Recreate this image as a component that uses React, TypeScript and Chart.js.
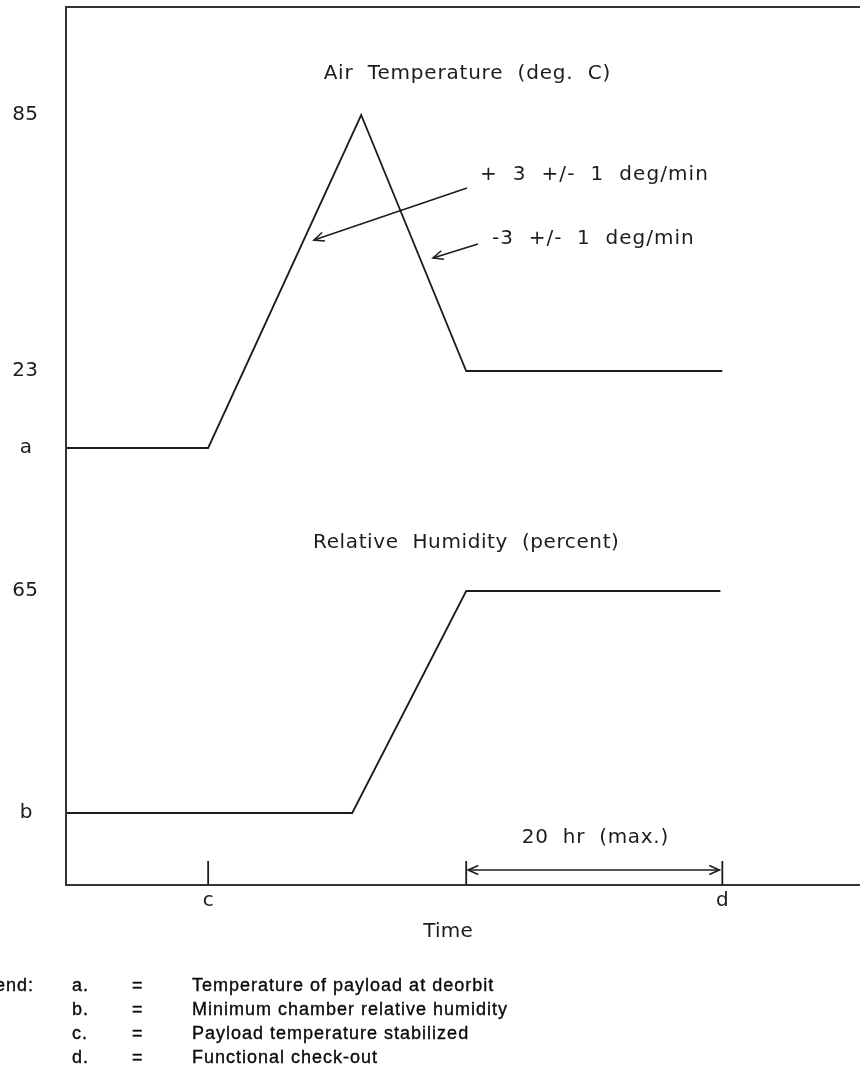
import React, { useEffect, useRef } from "react";
import { Chart, registerables } from "chart.js";

Chart.register(...registerables);

// Time in hours from the start of the test (horizontal positions)
const TEMP_TIME = [0, 11.1, 23.05, 31.25, 51.25];
// Air temperature, deg C (first two points = "a", payload temperature at deorbit)
const TEMP_VALUES = [4.35, 4.35, 85, 23, 23];

const HUM_TIME = [0, 22.35, 31.25, 51.1];
// Relative humidity, percent (first two points = "b", minimum chamber RH)
const HUM_VALUES = [20, 20, 65, 65];

const TEMP_TICKS = [85, 23, 4.35];
const TEMP_TICK_LABELS = ["85", "23", "a"];
const HUM_TICKS = [65, 20];
const HUM_TICK_LABELS = ["65", "b"];

const TIME_TICKS = [11.1, 31.25, 51.25];
const TIME_TICK_LABELS = ["c", "", "d"];

const LEGEND_KEYS = ["a.", "b.", "c.", "d."];
const LEGEND_TEXT = [
  "Temperature of payload at deorbit",
  "Minimum chamber relative humidity",
  "Payload temperature stabilized",
  "Functional check-out",
];

const INK = "#1c1c1c";
const FONT = "'DejaVu Sans', sans-serif";

function arrowHead(ctx: CanvasRenderingContext2D, x1: number, y1: number, x2: number, y2: number) {
  const ang = Math.atan2(y2 - y1, x2 - x1);
  const len = 11;
  const spread = 0.42;
  ctx.beginPath();
  ctx.moveTo(x2 - len * Math.cos(ang - spread), y2 - len * Math.sin(ang - spread));
  ctx.lineTo(x2, y2);
  ctx.lineTo(x2 - len * Math.cos(ang + spread), y2 - len * Math.sin(ang + spread));
  ctx.stroke();
}

function arrow(ctx: CanvasRenderingContext2D, x1: number, y1: number, x2: number, y2: number) {
  ctx.beginPath();
  ctx.moveTo(x1, y1);
  ctx.lineTo(x2, y2);
  ctx.stroke();
  arrowHead(ctx, x1, y1, x2, y2);
}

function txt(
  ctx: CanvasRenderingContext2D,
  s: string,
  x: number,
  y: number,
  align: "left" | "center" | "right",
  size: number,
  spacing: number
) {
  ctx.font = `${size}px ${FONT}`;
  (ctx as any).letterSpacing = `${spacing}px`;
  ctx.textAlign = "left";
  const w = ctx.measureText(s).width - spacing;
  let sx = x;
  if (align === "center") sx = x - w / 2;
  else if (align === "right") sx = x - w;
  ctx.fillText(s, sx, y);
  (ctx as any).letterSpacing = "0px";
}

const decorPlugin = {
  id: "decor",
  afterDraw(chart: any) {
    const ctx: CanvasRenderingContext2D = chart.ctx;
    const { left, right, top, bottom } = chart.chartArea;
    const xs = chart.scales.x;
    const yT = chart.scales.yT;
    const yH = chart.scales.yH;
    ctx.save();
    // frame
    ctx.strokeStyle = "#333";
    ctx.lineWidth = 2;
    ctx.beginPath();
    ctx.moveTo(right + 2, top);
    ctx.lineTo(left, top);
    ctx.lineTo(left, bottom);
    ctx.lineTo(right + 2, bottom);
    ctx.stroke();

    // x ticks
    ctx.strokeStyle = INK;
    ctx.lineWidth = 1.8;
    TIME_TICKS.forEach((t) => {
      const px = xs.getPixelForValue(t);
      ctx.beginPath();
      ctx.moveTo(px, bottom);
      ctx.lineTo(px, bottom - 24);
      ctx.stroke();
    });

    ctx.fillStyle = INK;
    ctx.textBaseline = "middle";
    TIME_TICKS.forEach((t, i) => {
      if (TIME_TICK_LABELS[i]) txt(ctx, TIME_TICK_LABELS[i], xs.getPixelForValue(t), bottom + 16, "center", 20, 0);
    });
    txt(ctx, "Time", 448, bottom + 47, "center", 20, 0.2);

    // y labels
    const yLabel = (label: string, py: number) => {
      if (/^\d/.test(label)) txt(ctx, label, 38, py, "right", 20, 0.2);
      else txt(ctx, label, 26, py, "center", 20, 0);
    };
    TEMP_TICKS.forEach((v, i) => yLabel(TEMP_TICK_LABELS[i], yT.getPixelForValue(v)));
    HUM_TICKS.forEach((v, i) => yLabel(HUM_TICK_LABELS[i], yH.getPixelForValue(v)));

    // series titles
    txt(ctx, "Air  Temperature  (deg.  C)", 467, 74, "center", 20, 0.8);
    txt(ctx, "Relative  Humidity  (percent)", 466, 543, "center", 20, 0.6);

    // rate annotations
    txt(ctx, "+  3  +/-  1  deg/min", 480, 175, "left", 20, 1.1);
    txt(ctx, "-3  +/-  1  deg/min", 492, 239, "left", 20, 1.0);
    ctx.lineWidth = 1.6;
    arrow(ctx, 467, 188, 314, 240);
    arrow(ctx, 478, 244, 433, 258);

    // 20 hr span
    const xe = xs.getPixelForValue(TIME_TICKS[1]);
    const xd = xs.getPixelForValue(TIME_TICKS[2]);
    const ya = bottom - 15;
    ctx.beginPath();
    ctx.moveTo(xe + 2, ya);
    ctx.lineTo(xd - 3, ya);
    ctx.stroke();
    arrowHead(ctx, xd, ya, xe + 2, ya);
    arrowHead(ctx, xe, ya, xd - 3, ya);
    txt(ctx, "20  hr  (max.)", 595, bottom - 47, "center", 20, 0.7);

    // legend
    ctx.fillStyle = "#0a0a0a";
    ctx.strokeStyle = "#0a0a0a";
    ctx.lineWidth = 0.35;
    ctx.font = `18px 'Liberation Sans', Arial, sans-serif`;
    (ctx as any).letterSpacing = "1px";
    ctx.textAlign = "right";
    ctx.fillText("Legend:", 34, 986);
    ctx.strokeText("Legend:", 34, 986);
    ctx.textAlign = "left";
    LEGEND_KEYS.forEach((k, i) => {
      const y = 986 + i * 24;
      [
        [k, 72],
        ["=", 132],
        [LEGEND_TEXT[i], 192],
      ].forEach(([s, x]) => {
        ctx.fillText(s as string, x as number, y);
        ctx.strokeText(s as string, x as number, y);
      });
    });
    (ctx as any).letterSpacing = "0px";
    ctx.restore();
  },
};

export default function App() {
  const ref = useRef<HTMLCanvasElement | null>(null);
  useEffect(() => {
    if (!ref.current) return;
    const chart = new Chart(ref.current, {
      type: "line",
      data: {
        datasets: [
          {
            label: "Air Temperature (deg. C)",
            data: TEMP_TIME.map((t, i) => ({ x: t, y: TEMP_VALUES[i] })),
            yAxisID: "yT",
            borderColor: INK,
            borderWidth: 1.8,
            pointRadius: 0,
            tension: 0,
            fill: false,
          },
          {
            label: "Relative Humidity (percent)",
            data: HUM_TIME.map((t, i) => ({ x: t, y: HUM_VALUES[i] })),
            yAxisID: "yH",
            borderColor: INK,
            borderWidth: 1.8,
            pointRadius: 0,
            tension: 0,
            fill: false,
          },
        ],
      },
      options: {
        animation: false,
        responsive: false,
        devicePixelRatio: 1,
        layout: { padding: { left: 66, top: 7, right: 0, bottom: 187 } },
        plugins: { legend: { display: false }, tooltip: { enabled: false }, title: { display: false } },
        scales: {
          x: { type: "linear", min: 0, max: 62, display: false },
          yT: { type: "linear", min: -101.5, max: 111.16, display: false },
          yH: { type: "linear", min: 5.4, max: 183.4, display: false },
        },
      },
      plugins: [decorPlugin],
    });
    return () => chart.destroy();
  }, []);
  return (
    <div style={{ position: "absolute", left: 0, top: 0, width: 860, height: 1072, background: "#fff" }}>
      <canvas ref={ref} width={860} height={1072} />
    </div>
  );
}
